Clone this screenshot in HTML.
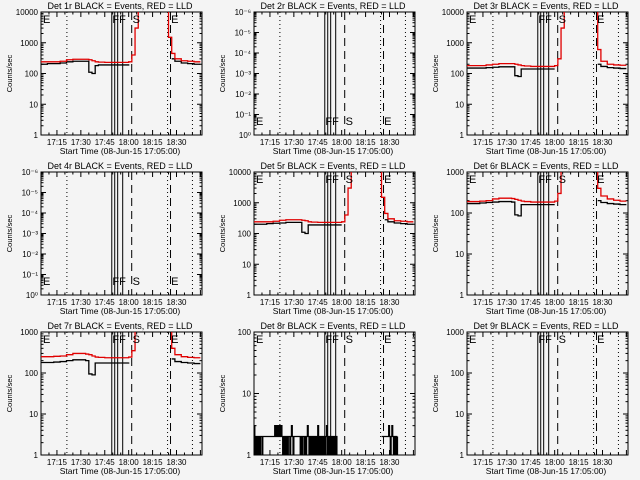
<!DOCTYPE html>
<html><head><meta charset="utf-8"><style>
html,body{margin:0;padding:0;background:#f4f4f4}
svg{display:block;font-family:"Liberation Sans",sans-serif}
</style></head><body>
<svg id="c" width="640" height="480" viewBox="0 0 640 480"></svg>
<script>
// time in minutes since 17:05
const times=[0,4,8,12,16,20,24,28,30,32,34,36,40,44,48,52,55,57,59,61,63,65,70,75,78,80,82,84,88,92,96,100];
const red1=[240,240,240,250,280,290,290,290,280,260,240,235,230,230,230,230,240,400,3000,20000,30000,30000,30000,30000,20000,1500,450,300,260,250,240,240];
const blk1=[200,210,210,220,240,250,250,250,110,100,180,190,190,190,190,190,200,null,null,null,null,null,null,null,null,null,300,250,220,210,200,200];
const red3=[180,180,180,190,200,210,210,210,200,190,180,175,170,170,170,170,180,300,3000,30000,30000,30000,30000,30000,30000,30000,600,250,200,190,185,185];
const blk3=[150,150,150,155,160,165,165,165,85,80,140,140,140,140,140,140,140,null,null,null,null,null,null,null,null,null,200,170,155,150,145,145];
const red5=[240,240,240,250,270,280,280,280,270,260,240,235,230,230,230,230,240,400,3000,20000,30000,30000,30000,30000,20000,1500,450,300,260,250,240,240];
const blk5=[200,200,210,215,220,230,230,230,110,100,190,190,190,190,190,190,190,null,null,null,null,null,null,null,null,null,280,240,220,210,200,200];
const red6=[190,190,195,200,220,230,230,225,215,205,195,190,185,185,185,185,195,300,3000,30000,30000,30000,30000,30000,30000,30000,400,260,220,205,195,195];
const blk6=[170,170,175,180,185,190,190,185,90,85,160,160,160,160,160,160,160,null,null,null,null,null,null,null,null,null,200,180,170,165,160,160];
const red7=[250,250,255,260,280,300,300,290,280,260,245,240,235,235,235,235,245,350,3000,30000,30000,30000,30000,30000,30000,30000,400,280,250,240,235,235];
const blk7=[180,180,185,190,200,210,210,200,95,90,175,175,175,175,175,175,180,null,null,null,null,null,null,null,null,null,220,190,180,175,170,170];
const times8=[0,0.5,1,1.5,2,2.5,3,3.5,4,4.5,5,5.5,6,6.5,7,7.5,8,8.5,9,9.5,10,10.5,11,11.5,12,12.5,13,13.5,14,14.5,15,15.5,16,16.5,17,17.5,18,18.5,19,19.5,20,20.5,21,21.5,22,22.5,23,23.5,24,24.5,25,25.5,26,26.5,27,27.5,28,28.5,29,29.5,30,30.5,31,31.5,32,32.5,33,33.5,34,34.5,35,35.5,36,36.5,37,37.5,38,38.5,39,39.5,40,40.5,41,41.5,42,42.5,43,43.5,44,44.5,45,45.5,46,46.5,47,47.5,48,48.5,49,49.5,50,50.5,51,51.5,52,80,80.5,81,81.5,82,82.5,83,83.5,84,84.5,85,85.5,86,86.5,87,87.5,88,88.5,89,89.5,90];
const blk8=[3,1,2,1,2,1,2,1,2,2,1,2,2,2,2,2,2,2,2,2,2,2,2,2,2,2,3,2,3,2,3,2,3,2,3,2,1,2,1,2,1,2,1,2,2,1,2,3,2,1,2,2,2,2,2,2,2,2,1,2,1,2,2,1,2,1,2,3,2,1,2,1,2,1,2,1,2,1,2,1,3,1,2,1,2,1,2,1,2,1,2,3,1,2,1,2,1,2,1,2,1,2,1,2,1,2,2,2,2,2,2,2,2,2,3,2,1,2,3,2,1,2,1,2,1,2,1];
const xtickLabels=["17:15","17:30","17:45","18:00","18:15","18:30"];
const xtickTimes=[10,25,40,55,70,85];
const dotted=[16.25,79.4,95];
const solid=[44.4,46.25,48.1,51.25];
const dashed=[56.9,81.25];
const panels=[
 {title:"Det 1r",dec:4,red:red1,blk:blk1,top:true},
 {title:"Det 2r",dec:6,neg:true,top:false},
 {title:"Det 3r",dec:4,red:red3,blk:blk3,top:true},
 {title:"Det 4r",dec:6,neg:true,top:false},
 {title:"Det 5r",dec:4,red:red5,blk:blk5,top:true},
 {title:"Det 6r",dec:3,red:red6,blk:blk6,top:true},
 {title:"Det 7r",dec:3,red:red7,blk:blk7,top:true},
 {title:"Det 8r",dec:2,blk:blk8,bt:times8,top:true},
 {title:"Det 9r",dec:3,top:true}
];
const svg=document.getElementById('c');
const NS="http://www.w3.org/2000/svg";
function mk(tag,attrs,parent){const e=document.createElementNS(NS,tag);for(const k in attrs)e.setAttribute(k,attrs[k]);parent.appendChild(e);return e;}
panels.forEach((p,i)=>{
 const ox=(i%3)*213, oy=Math.floor(i/3)*160;
 const L=ox+41,R=ox+202,T=oy+12,B=oy+135;
 const g=mk('g',{},svg);
 
 
 const xs=t=>L+(t/101)*(R-L);
 const ys=v=>B-(Math.log10(v)/p.dec)*(B-T);
 const ti=mk('text',{x:ox+120,y:oy+9,'font-size':9,'text-anchor':'middle'},g);
 ti.textContent=p.title+" BLACK = Events, RED = LLD";
 
 
 const ax=mk('rect',{x:L,y:T,width:R-L,height:B-T,fill:'none',stroke:'#000','stroke-width':1},g);
 
 
 for(let d=0;d<=p.dec;d++){
  const y=B-d/p.dec*(B-T);
  mk('line',{x1:L,x2:L+5,y1:y,y2:y,stroke:'#000'},g);
  mk('line',{x1:R,x2:R-5,y1:y,y2:y,stroke:'#000'},g);
  const lb=mk('text',{x:L-3,y:y+3,'font-size':8,'text-anchor':'end'},g);
  
  
  if(p.neg){lb.textContent=d==0?"10⁰":"10⁻"+"¹²³⁴⁵⁶"[d-1];}
  else lb.textContent=String(Math.pow(10,d));
  if(d<p.dec)for(let m=2;m<10;m++){const yy=y-Math.log10(m)/p.dec*(B-T);
   mk('line',{x1:L,x2:L+2.5,y1:yy,y2:yy,stroke:'#000'},g);mk('line',{x1:R,x2:R-2.5,y1:yy,y2:yy,stroke:'#000'},g);}
 }
 const yt=mk('text',{x:0,y:0,'font-size':7.5,'text-anchor':'middle',transform:`translate(${ox+12},${(T+B)/2}) rotate(-90)`},g);
 yt.textContent="Counts/sec";
 
 
 for(let t=0;t<=100;t+=5){const x=xs(t);const len=(t%15==10)?5:2.5;
  mk('line',{x1:x,x2:x,y1:B,y2:B-len,stroke:'#000'},g);mk('line',{x1:x,x2:x,y1:T,y2:T+len,stroke:'#000'},g);}
 xtickLabels.forEach((s,k)=>{const tl=mk('text',{x:xs(xtickTimes[k]),y:B+10,'font-size':8,'text-anchor':'middle'},g);tl.textContent=s;
  
  });
 const xt=mk('text',{x:ox+120,y:B+19,'font-size':8.5,'text-anchor':'middle'},g);
 xt.textContent="Start Time (08-Jun-15 17:05:00)";
 
 
 dotted.forEach(t=>mk('line',{x1:xs(t),x2:xs(t),y1:T,y2:B,stroke:'#000','stroke-dasharray':'1 3'},g));
 solid.forEach(t=>mk('line',{x1:xs(t),x2:xs(t),y1:T,y2:B,stroke:'#000'},g));
 dashed.forEach(t=>mk('line',{x1:xs(t),x2:xs(t),y1:T,y2:B,stroke:'#000','stroke-dasharray':'8 5'},g));
 const clipId='clip'+i;
 const cp=mk('clipPath',{id:clipId},g);mk('rect',{x:L,y:T,width:R-L,height:B-T},cp);
 function series(vals,tt,color,name){
  let d="",pen=false;
  vals.forEach((v,k)=>{if(v==null){pen=false;return;}
   const x=xs(tt[k]),y=ys(v);
   if(!pen){d+=`M${x},${y}`;pen=true;}else{d+=`H${x}V${y}`;}
   if(k<vals.length-1&&vals[k+1]!=null&&tt[k+1]-tt[k]<6)d+=`H${xs(tt[k+1])}`;
   else if(k<vals.length-1&&tt[k+1]-tt[k]>=6)pen=false;});
  const pa=mk('path',{d:d,fill:'none',stroke:color,'stroke-width':1.3,'clip-path':`url(#${clipId})`},g);
  
  
 }
 if(p.blk)series(p.blk,p.bt||times,'#000','events-series');
 if(p.red)series(p.red,times,'#e00000','lld-series');
 const my=p.top?T+11:B-10;
 [["E",L+2],["FF",xs(44.8)],["S",xs(57.5)],["E",xs(81.6)]].forEach(([s,x])=>{
  const m=mk('text',{x:x,y:my,'font-size':11},g);m.textContent=s;
  
  });
});
</script>
</body></html>
